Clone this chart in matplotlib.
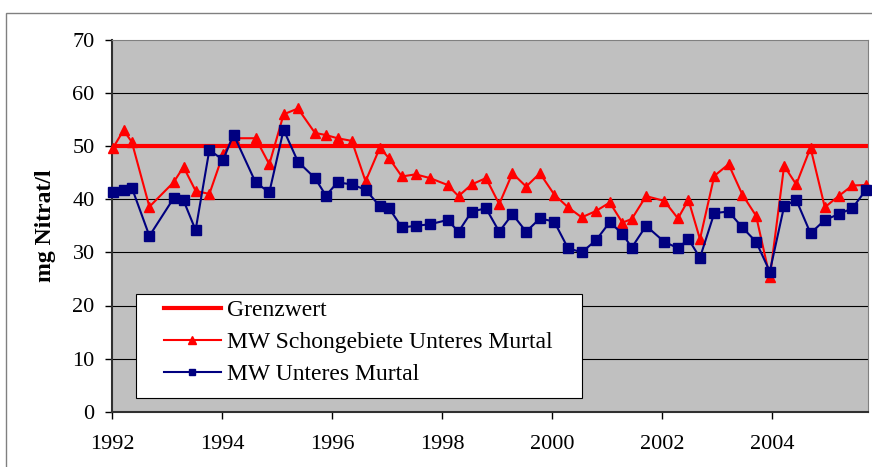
import matplotlib
matplotlib.use("Agg")
import matplotlib.pyplot as plt
from matplotlib.lines import Line2D
from matplotlib.patches import Rectangle

# sampling dates as decimal years
dates = [1992.02, 1992.21, 1992.36, 1992.68, 1993.12, 1993.30, 1993.52, 1993.77,
         1994.02, 1994.21, 1994.61, 1994.86, 1995.12, 1995.38, 1995.69, 1995.89,
         1996.10, 1996.36, 1996.61, 1996.87, 1997.04, 1997.27, 1997.52, 1997.78,
         1998.10, 1998.30, 1998.54, 1998.80, 1999.04, 1999.28, 1999.53, 1999.78,
         2000.04, 2000.29, 2000.54, 2000.80, 2001.05, 2001.28, 2001.45, 2001.71,
         2002.04, 2002.29, 2002.48, 2002.69, 2002.95, 2003.21, 2003.46, 2003.71,
         2003.96, 2004.22, 2004.44, 2004.70, 2004.96, 2005.21, 2005.46, 2005.71]

schongebiete = [49.7, 53.0, 50.8, 38.6, 43.2, 46.1, 41.6, 41.0,
                48.5, 51.5, 51.5, 46.6, 56.0, 57.1, 52.5, 52.1,
                51.5, 51.0, 43.4, 49.7, 47.7, 44.3, 44.7, 44.0,
                42.7, 40.6, 42.8, 44.0, 39.1, 44.9, 42.4, 44.9,
                40.9, 38.5, 36.6, 37.8, 39.4, 35.6, 36.3, 40.6,
                39.7, 36.4, 39.9, 32.5, 44.4, 46.6, 40.9, 36.9,
                25.3, 46.3, 42.8, 49.7, 38.5, 40.6, 42.6, 42.7]

unteres_murtal = [41.4, 41.8, 42.2, 33.1, 40.2, 39.8, 34.2, 49.3,
                  47.4, 52.2, 43.2, 41.3, 53.1, 47.1, 44.0, 40.7,
                  43.2, 42.8, 41.8, 38.7, 38.3, 34.7, 35.0, 35.3,
                  36.1, 33.9, 37.7, 38.3, 33.9, 37.2, 33.9, 36.4,
                  35.8, 30.8, 30.0, 32.3, 35.7, 33.5, 30.9, 35.0,
                  32.0, 30.8, 32.5, 29.0, 37.4, 37.7, 34.7, 32.0,
                  26.4, 38.7, 39.9, 33.6, 36.1, 37.2, 38.3, 41.8]

grenzwert = 50

labels = ["Grenzwert", "MW Schongebiete Unteres Murtal", "MW Unteres Murtal"]
x_ticks = [1992, 1994, 1996, 1998, 2000, 2002, 2004]
y_ticks = [0, 10, 20, 30, 40, 50, 60, 70]

plt.rcParams["font.family"] = ["Liberation Serif", "DejaVu Serif"]

W, H = 872, 467
fig = plt.figure(figsize=(W / 100, H / 100), dpi=100)

# outer chart frame (only left/top visible)
fig.patches.append(Rectangle((5.5 / W, -0.1), 1.2, 1 - 12.5 / H + 0.1,
                             transform=fig.transFigure, fill=False,
                             edgecolor="#808080", linewidth=1))

ax = fig.add_axes([112 / W, 1 - 411.7 / H, (868 - 112) / W, (411.7 - 40) / H])
ax.set_facecolor("#C0C0C0")

for y in y_ticks[1:-1]:
    ax.axhline(y, color="black", linewidth=0.8, zorder=1)

ax.axhline(grenzwert, color="#FF0000", linewidth=3, zorder=2)
ax.plot(dates, schongebiete, color="#FF0000", linewidth=1.5, marker="^",
        markersize=7.5, zorder=3, clip_on=False)
ax.plot(dates, unteres_murtal, color="#000080", linewidth=1.5, marker="s",
        markersize=6.8, zorder=4, clip_on=False)

ax.set_xlim(1992, 2005.745)
ax.set_ylim(0, 70)
ax.set_xticks(x_ticks)
ax.set_yticks(y_ticks)
ax.tick_params(labelsize=16, length=5, width=1, color="black")
ax.tick_params(axis="y", pad=7.5)
ax.tick_params(axis="x", pad=12)

ax.spines["left"].set_color("#303030")
ax.spines["bottom"].set_color("#303030")
ax.spines["left"].set_linewidth(1.5)
ax.spines["bottom"].set_linewidth(1.5)
ax.spines["top"].set_color("#808080")
ax.spines["right"].set_color("#808080")

fig.text(46 / W, 1 - 226 / H, "mg Nitrat/l", rotation=90, fontsize=17,
         fontweight="bold", ha="center", va="center")

# legend box
fig.patches.append(Rectangle((135.7 / W, 1 - 397.7 / H), (581.7 - 135.7) / W,
                             (397.7 - 294.3) / H, transform=fig.transFigure,
                             facecolor="white", edgecolor="black",
                             linewidth=0.8, zorder=5))
handles = [
    Line2D([], [], color="#FF0000", linewidth=3),
    Line2D([], [], color="#FF0000", linewidth=1.5, marker="^", markersize=6),
    Line2D([], [], color="#000080", linewidth=1.5, marker="s", markersize=5),
]
leg = fig.legend(handles, labels, loc="upper left",
                 bbox_to_anchor=(164 / W, 1 - 299.5 / H),
                 frameon=False, fontsize=17, handlelength=2.4,
                 handletextpad=0.27, labelspacing=0.45, borderpad=0,
                 borderaxespad=0)
leg.set_zorder(6)

fig.savefig("out.png", dpi=100)
